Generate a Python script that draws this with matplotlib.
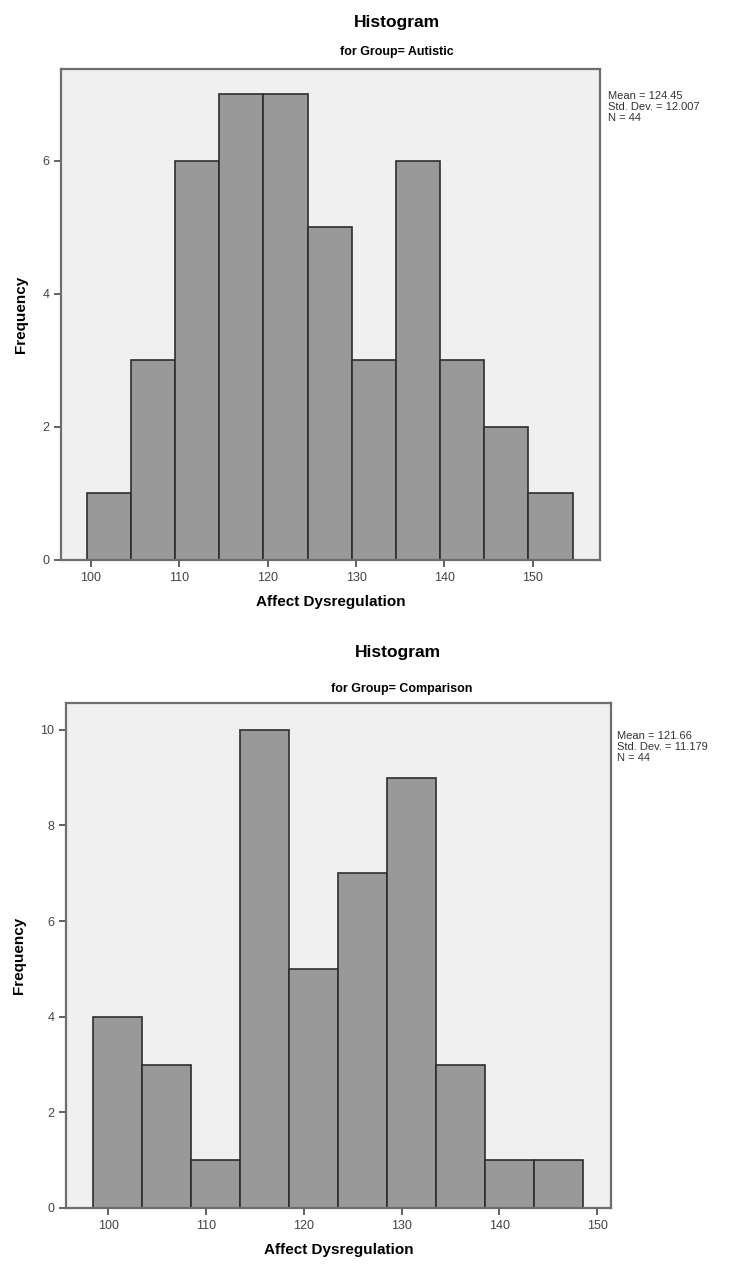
import matplotlib
matplotlib.use('Agg')
import matplotlib.pyplot as plt

plt.rcParams['font.family'] = ['Liberation Sans', 'DejaVu Sans']

# data
autistic_edges = [99.5, 104.5, 109.5, 114.5, 119.5, 124.5, 129.5, 134.5, 139.5, 144.5, 149.5, 154.5]
autistic_counts = [1, 3, 6, 7, 7, 5, 3, 6, 3, 2, 1]
autistic_stats = ['Mean = 124.45', 'Std. Dev. = 12.007', 'N = 44']

comparison_edges = [98.5, 103.5, 108.5, 113.5, 118.5, 123.5, 128.5, 133.5, 138.5, 143.5, 148.5]
comparison_counts = [4, 3, 1, 10, 5, 7, 9, 3, 1, 1]
comparison_stats = ['Mean = 121.66', 'Std. Dev. = 11.179', 'N = 44']

x_ticks = [100, 110, 120, 130, 140, 150]
W, H = 739, 1272

fig = plt.figure(figsize=(W / 100, H / 100), dpi=100)


def px_axes(left, top, right, bottom):
    return fig.add_axes([left / W, 1 - bottom / H, (right - left) / W, (bottom - top) / H])


def draw_hist(ax, edges, counts, xlim, ylim, yticks):
    widths = [edges[i + 1] - edges[i] for i in range(len(counts))]
    ax.bar(edges[:-1], counts, width=widths, align='edge', color='#999999',
           edgecolor='#2e2e2e', linewidth=1.2)
    ax.set_facecolor('#f0f0f0')
    ax.set_xlim(*xlim)
    ax.set_ylim(*ylim)
    ax.set_xticks(x_ticks)
    ax.set_yticks(yticks)
    for s in ax.spines.values():
        s.set_color('#6e6e6e')
        s.set_linewidth(1.6)
    ax.tick_params(direction='out', length=5, width=1.3, color='#555555',
                   labelsize=9, labelcolor='#444444')
    ax.set_xlabel('Affect Dysregulation', fontsize=11, fontweight='bold', labelpad=8)
    ax.set_ylabel('Frequency', fontsize=11, fontweight='bold', labelpad=10)


# Top: Autistic
ax1 = px_axes(61, 69, 600, 560)
draw_hist(ax1, autistic_edges, autistic_counts, (96.6, 157.6), (0, 7.38), [0, 2, 4, 6])
fig.text(397 / W, 1 - 22 / H, 'Histogram', ha='center', va='center',
         fontsize=12.5, fontweight='bold')
fig.text(397 / W, 1 - 52 / H, 'for Group= Autistic', ha='center', va='center',
         fontsize=9, fontweight='bold')
fig.text(608 / W, 1 - 91 / H, '\n'.join(autistic_stats), ha='left', va='top',
         fontsize=8, color='#333333', linespacing=1.12)

# Bottom: Comparison
ax2 = px_axes(66, 703, 611, 1208)
draw_hist(ax2, comparison_edges, comparison_counts, (95.7, 151.4), (0, 10.56), [0, 2, 4, 6, 8, 10])
fig.text(398 / W, 1 - 652 / H, 'Histogram', ha='center', va='center',
         fontsize=12.5, fontweight='bold')
fig.text(402 / W, 1 - 689 / H, 'for Group= Comparison', ha='center', va='center',
         fontsize=9, fontweight='bold')
fig.text(617 / W, 1 - 731 / H, '\n'.join(comparison_stats), ha='left', va='top',
         fontsize=8, color='#333333', linespacing=1.12)

fig.savefig('out.png', dpi=100, facecolor='white')
